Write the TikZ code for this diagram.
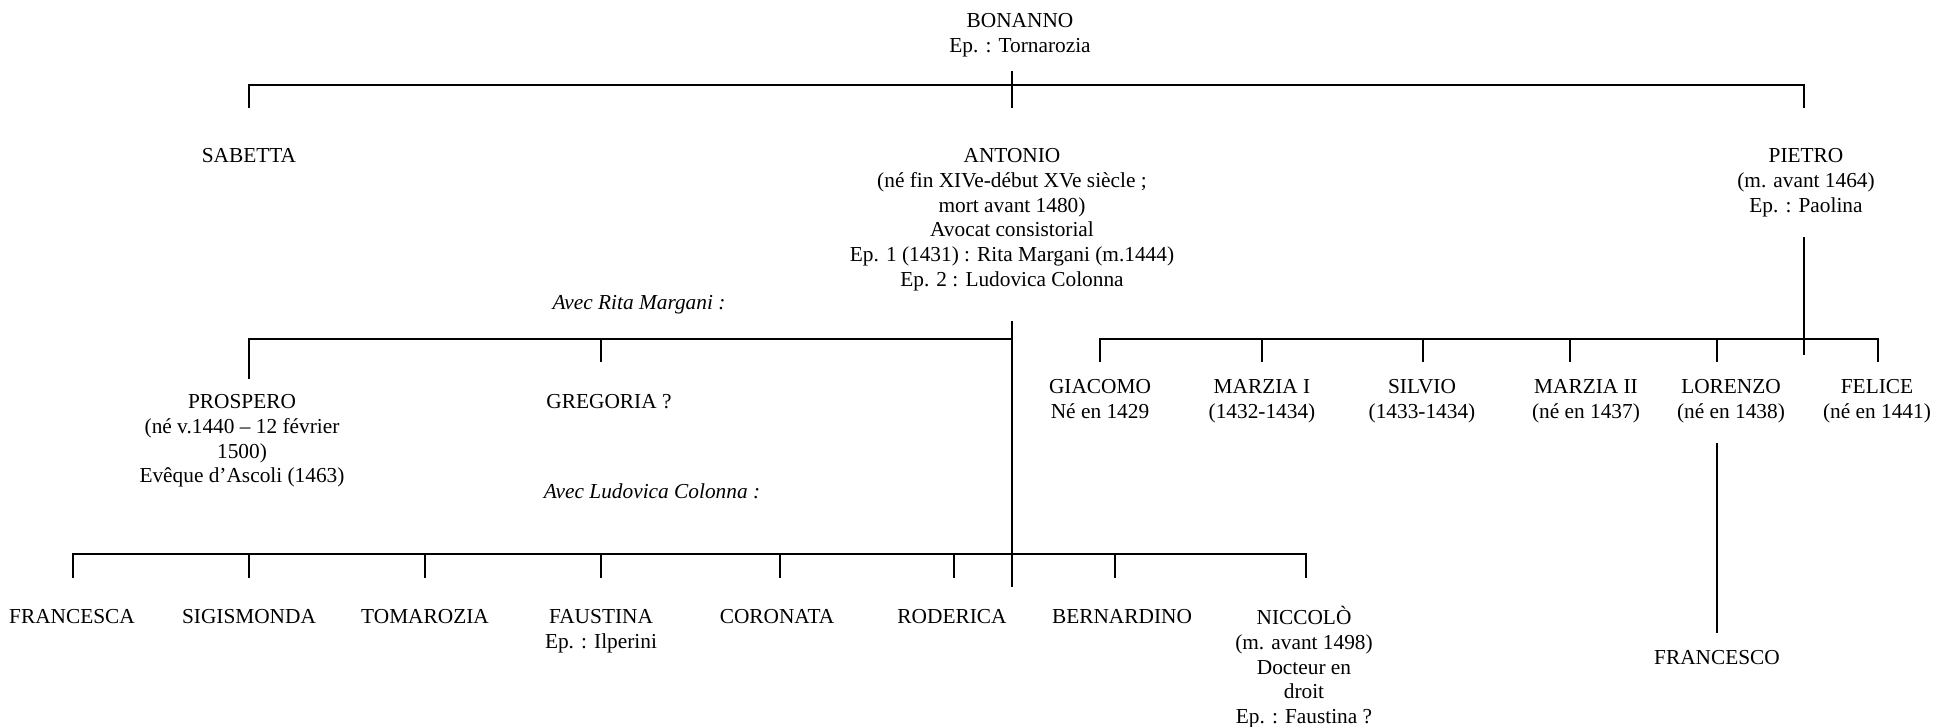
\documentclass[tikz,border=0pt]{standalone}
\usepackage{fontspec}
\setmainfont{Liberation Serif}
\newcommand\firststrut{\rule{0pt}{10.36pt}}
\begin{document}
\begin{tikzpicture}[x=0.6pt,y=-0.6pt,
  lbl/.style={anchor=north, yshift=10.36pt, inner sep=0pt, align=center,
    font=\fontsize{12.8}{14.8}\selectfont},
  ilbl/.style={lbl, font=\fontsize{12.8}{14.8}\selectfont\itshape},
  link/.style={draw=black, line width=0.8pt}]
\useasboundingbox (0,0) rectangle (1937,726);

% ---- texts ----
\node[lbl] (bonanno) at (1020,27.5) {\firststrut BONANNO\\Ep. : Tornarozia};
\node[lbl] (sabetta) at (249,162.5) {\firststrut SABETTA};
\node[lbl] (antonio) at (1012,162.5) {\firststrut ANTONIO\\(né fin XIVe-début XVe siècle ;\hspace*{0.6em}\\mort avant 1480)\\Avocat consistorial\\Ep. 1 (1431) : Rita Margani (m.1444)\\Ep. 2 : Ludovica Colonna};
\node[lbl] (pietro) at (1806,162.5) {\firststrut PIETRO\\(m. avant 1464)\\Ep. : Paolina};
\node[ilbl] (avecrita) at (639,309) {\firststrut Avec Rita Margani :};
\node[lbl] (prospero) at (242,408.5) {\firststrut PROSPERO\\(né v.1440 – 12 février\\1500)\\Evêque d’Ascoli (1463)};
\node[lbl] (gregoria) at (609,408.5) {\firststrut GREGORIA ?};
\node[ilbl] (avecludo) at (652,498) {\firststrut Avec Ludovica Colonna :};

\node[lbl] (giacomo) at (1100,393) {\firststrut GIACOMO\\Né en 1429};
\node[lbl] (marzia1) at (1262,393) {\firststrut MARZIA I\\(1432-1434)};
\node[lbl] (silvio) at (1422,393) {\firststrut SILVIO\\(1433-1434)};
\node[lbl] (marzia2) at (1586,393) {\firststrut MARZIA II\\(né en 1437)};
\node[lbl] (lorenzo) at (1731,393) {\firststrut LORENZO\\(né en 1438)};
\node[lbl] (felice) at (1877,393) {\firststrut FELICE\\(né en 1441)};

\node[lbl] (francesca) at (72,623.5) {\firststrut FRANCESCA};
\node[lbl] (sigismonda) at (249,623.5) {\firststrut SIGISMONDA};
\node[lbl] (tomarozia) at (425,623.5) {\firststrut TOMAROZIA};
\node[lbl] (faustina) at (601,623.5) {\firststrut FAUSTINA\\Ep. : Ilperini};
\node[lbl] (coronata) at (777,623.5) {\firststrut CORONATA};
\node[lbl] (roderica) at (952,623.5) {\firststrut RODERICA};
\node[lbl] (bernardino) at (1122,623.5) {\firststrut BERNARDINO};
\node[lbl] (niccolo) at (1304,623.5) {\firststrut NICCOLÒ\\(m. avant 1498)\\Docteur en\\droit\\Ep. : Faustina ?};
\node[lbl] (francesco) at (1717,664.5) {\firststrut FRANCESCO};

% ---- junction coordinates ----
% Bonanno's children
\coordinate (bTop) at (1012,71);
\coordinate (bMid) at (1012,85);
\coordinate (bBot) at (1012,108);
\coordinate (bL) at (249,85);
\coordinate (bLd) at (249,108);
\coordinate (bR) at (1804,85);
\coordinate (bRd) at (1804,108);
% Antonio with Rita
\coordinate (aTop) at (1012,321);
\coordinate (aRita) at (1012,339);
\coordinate (aLudo) at (1012,554);
\coordinate (aBot) at (1012,587);
\coordinate (rL) at (249,339);
\coordinate (rLd) at (249,379);
\coordinate (rG) at (601,339);
\coordinate (rGd) at (601,362);
% Antonio with Ludovica
\coordinate (lL) at (73,554);
\coordinate (lR) at (1306,554);
\foreach \n/\x in {c1/73,c2/249,c3/425,c4/601,c5/780,c6/954,c7/1115,c8/1306}{
  \coordinate (\n u) at (\x,554);
  \coordinate (\n d) at (\x,578);
}
% Pietro's children
\coordinate (pTop) at (1804,237);
\coordinate (pMid) at (1804,339);
\coordinate (pBot) at (1804,355);
\coordinate (pL) at (1100,339);
\coordinate (pR) at (1878,339);
\foreach \n/\x in {p1/1100,p2/1262,p3/1423,p4/1570,p5/1717,p6/1878}{
  \coordinate (\n u) at (\x,339);
  \coordinate (\n d) at (\x,362);
}
% Lorenzo to Francesco
\coordinate (loTop) at (1717,443);
\coordinate (loBot) at (1717,633);

% ---- connectors ----
\draw[link] (bTop) -- (bBot);
\draw[link] (bLd) -- (bL) -- (bR) -- (bRd);

\draw[link] (aTop) -- (aBot);
\draw[link] (rLd) -- (rL) -- (aRita);
\draw[link] (rG) -- (rGd);

\draw[link] (c1d) -- (lL) -- (lR) -- (c8d);
\foreach \n in {c2,c3,c4,c5,c6,c7}{ \draw[link] (\n u) -- (\n d); }

\draw[link] (pTop) -- (pBot);
\draw[link] (p1d) -- (pL) -- (pR) -- (p6d);
\foreach \n in {p2,p3,p4,p5}{ \draw[link] (\n u) -- (\n d); }

\draw[link] (loTop) -- (loBot);
\end{tikzpicture}
\end{document}
